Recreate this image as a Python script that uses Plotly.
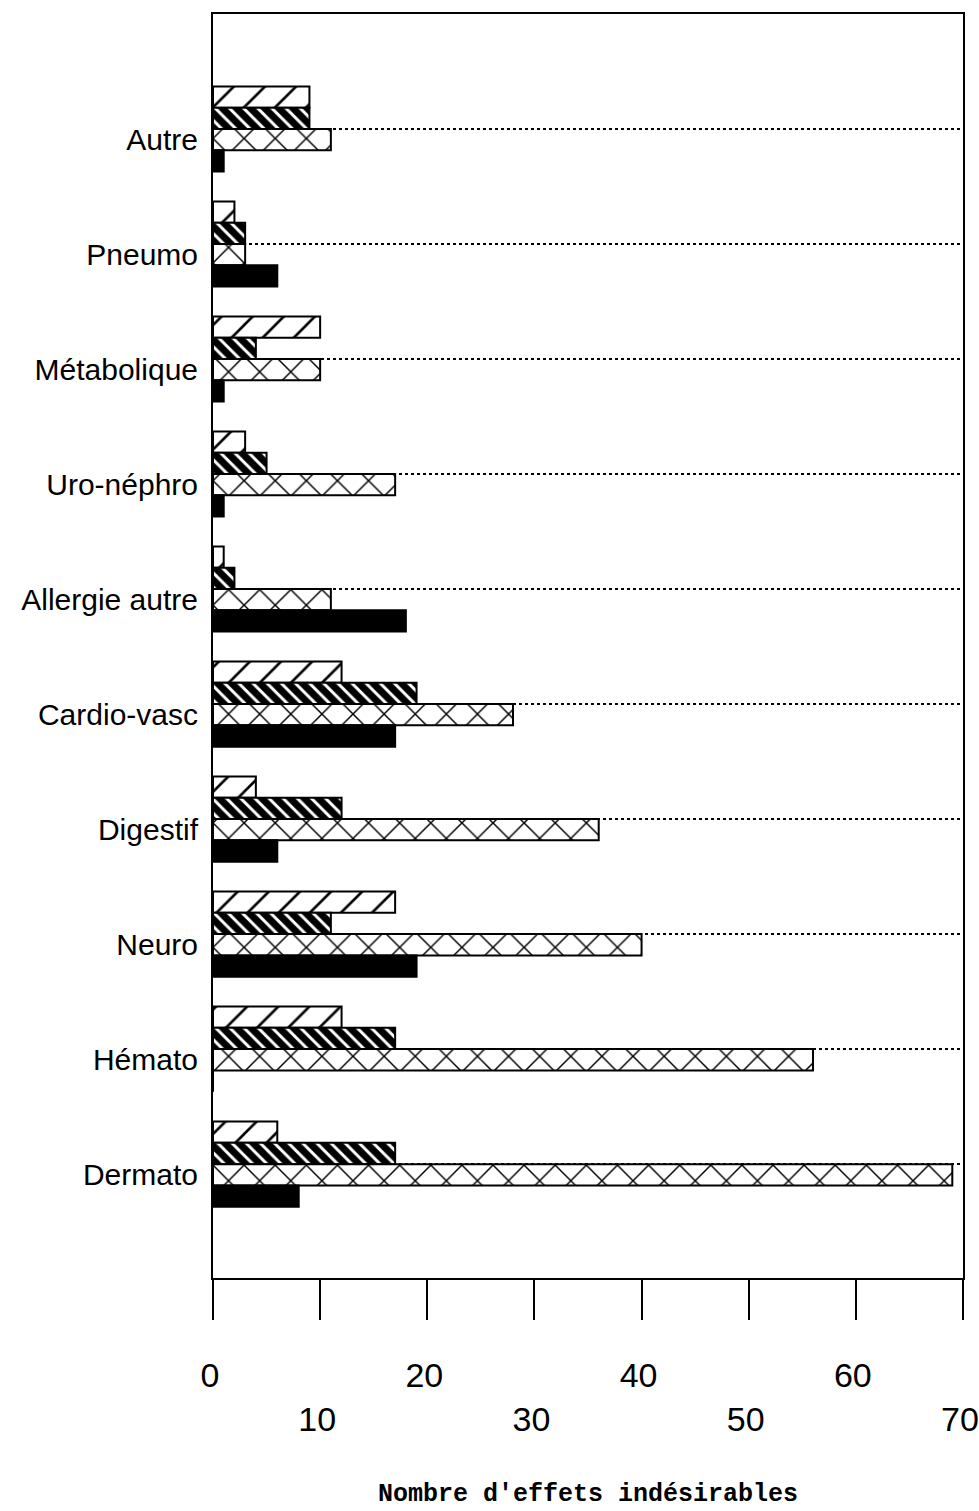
import plotly.graph_objects as go

categories = ["Autre", "Pneumo", "Métabolique", "Uro-néphro", "Allergie autre",
              "Cardio-vasc", "Digestif", "Neuro", "Hémato", "Dermato"]
series_names = ["Série 1", "Série 2", "Série 3", "Série 4"]
serie1 = [9, 2, 10, 3, 1, 12, 4, 17, 12, 6]     # hachures /
serie2 = [9, 3, 4, 5, 2, 19, 12, 11, 17, 17]    # hachures denses \
serie3 = [11, 3, 10, 17, 11, 28, 36, 40, 56, 69]  # quadrillage x
serie4 = [1, 6, 1, 1, 18, 17, 6, 19, 0, 8]      # plein noir
x_tickvals = [0, 10, 20, 30, 40, 50, 60, 70]
x_ticktext = ["0", "<br>10", "20", "<br>30", "40", "<br>50", "60", "<br>70"]
x_title = "Nombre d'effets indésirables"

styles = [
    dict(shape="/", fgcolor="black", bgcolor="white", size=22, solidity=0.12,
         fillmode="overlay", fgopacity=1),
    dict(shape="\\", fgcolor="black", bgcolor="white", size=10, solidity=0.7,
         fillmode="overlay", fgopacity=1),
    dict(shape="x", fgcolor="black", bgcolor="white", size=22, solidity=0.13,
         fillmode="overlay", fgopacity=1),
    None,
]

fig = go.Figure()
for name, vals, pat in zip(series_names, [serie1, serie2, serie3, serie4], styles):
    marker = dict(color="white" if pat else "black", line=dict(color="black", width=2))
    if pat:
        marker["pattern"] = pat
    fig.add_trace(go.Bar(y=categories, x=vals, name=name, orientation="h",
                         marker=marker, showlegend=False))

y_font = dict(family="Liberation Sans, Arial, sans-serif", size=30, color="black")
x_font = dict(family="Liberation Sans, Arial, sans-serif", size=34, color="black")

fig.update_layout(
    width=979, height=1511,
    margin=dict(l=213, r=16, t=14, b=233),
    plot_bgcolor="white", paper_bgcolor="white",
    barmode="group", bargap=0.26, bargroupgap=0,
    xaxis=dict(range=[0, 70], tickvals=x_tickvals, ticktext=x_ticktext,
               ticks="outside", ticklen=40, tickwidth=2, tickcolor="black",
               ticklabelstandoff=26, ticklabelshift=-3, ticklabeloverflow="allow",
               automargin=False,
               showgrid=False, zeroline=False,
               showline=True, linecolor="black", linewidth=2, mirror=True,
               tickfont=x_font),
    yaxis=dict(categoryorder="array", categoryarray=categories,
               range=[9.99, -1], ticks="", ticklabelstandoff=7, ticklabelshift=-10,
               automargin=False,
               showgrid=True, gridcolor="black", gridwidth=2, griddash="dot",
               showline=True, linecolor="black", linewidth=2, mirror=True,
               tickfont=y_font),
    annotations=[dict(text="<b>" + x_title + "</b>", xref="paper", yref="paper",
                      x=0.5, y=-0.1715, xanchor="center", yanchor="middle",
                      showarrow=False,
                      font=dict(family="Liberation Mono, Courier New, monospace", size=25, color="black"))],
)

fig.write_html("out.html", config={"displayModeBar": False},
               post_script="document.body.style.margin='0';document.body.style.overflow='hidden';")
